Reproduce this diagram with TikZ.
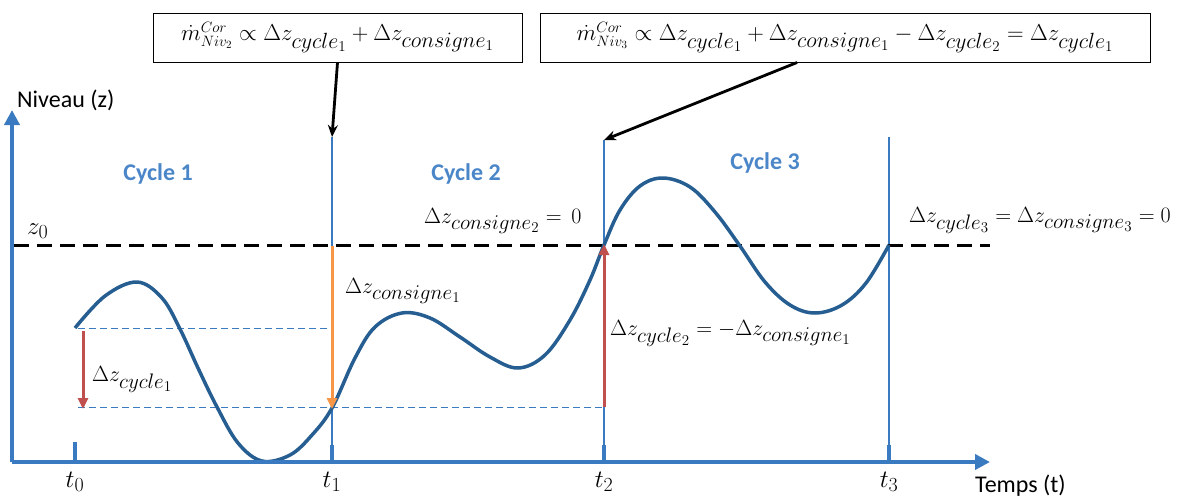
\RequirePackage{fix-cm}
\documentclass[tikz,border=0pt]{standalone}
\usepackage{fontspec}
\setsansfont{Carlito}
\DeclareMathSizes{15}{15}{11}{8}
\DeclareMathSizes{22}{22}{21}{15}
\DeclareMathSizes{23}{23}{22}{15}
\DeclareMathSizes{25}{25}{20}{15}
\newcommand{\mscr}[1]{\hbox{\fontsize{15}{17}\selectfont$#1$}}
\usetikzlibrary{arrows.meta}
\definecolor{axisblue}{RGB}{58,122,192}
\definecolor{curveblue}{RGB}{38,94,145}
\definecolor{cycblue}{RGB}{74,134,200}
\definecolor{redarr}{RGB}{192,80,77}
\definecolor{orangearr}{RGB}{247,150,70}
\begin{document}
\begin{tikzpicture}[x=1pt,y=-1pt,
  axis/.style={draw=axisblue,line width=4.5pt,-{Triangle[length=15pt,width=15pt]}},
  tick/.style={draw=axisblue,line width=3.5pt},
  vline/.style={draw=axisblue,line width=1.4pt},
  guide/.style={draw=axisblue,line width=1pt,dash pattern=on 7pt off 4pt},
  zline/.style={draw=black,line width=3pt,dash pattern=on 15pt off 8pt},
  curve/.style={draw=curveblue,line width=3.5pt},
  redarrow/.style={draw=redarr,line width=3pt,-{Triangle[length=11pt,width=10pt]}},
  orangearrow/.style={draw=orangearr,line width=3pt,-{Triangle[length=11pt,width=10pt]}},
  callout/.style={draw=black,line width=2.8pt,-{Stealth[length=12pt,width=10pt]}},
  box/.style={draw=black,line width=1pt,fill=white,inner sep=0pt,font=\fontsize{23}{27}\selectfont},
  mlab/.style={font=\fontsize{22}{26}\selectfont,inner sep=0pt},
  tlab/.style={font=\fontsize{25}{29}\selectfont,inner sep=0pt},
  slab/.style={font=\sffamily\fontsize{24}{28}\selectfont,inner sep=0pt},
  cyc/.style={font=\sffamily\bfseries\fontsize{24}{28}\selectfont,text=cycblue,inner sep=0pt}]
\useasboundingbox (0,0) rectangle (1191,499);
% coordinates
\coordinate (O) at (12,462);
\coordinate (ytop) at (12,110);
\coordinate (xend) at (990,462);
\coordinate (t0b) at (75,462); \coordinate (t0t) at (75,442);
\coordinate (t1b) at (332,462); \coordinate (t1t) at (332,445); \coordinate (t1v) at (332,137);
\coordinate (t2b) at (604,462); \coordinate (t2t) at (604,445); \coordinate (t2v) at (604,140);
\coordinate (t3b) at (889,462); \coordinate (t3t) at (889,445); \coordinate (t3v) at (889,137);
\coordinate (zl) at (14,245); \coordinate (zr) at (990,245);
\coordinate (g1l) at (78,328); \coordinate (g1r) at (332,328);
\coordinate (g2l) at (78,407); \coordinate (g2r) at (604,407);
\coordinate (r1s) at (83,331); \coordinate (r1e) at (83,409);
\coordinate (o1s) at (332,246); \coordinate (o1e) at (332,409);
\coordinate (r2s) at (604,407); \coordinate (r2e) at (604,244);
% vertical cycle lines
\draw[vline] (t1b) -- (t1v);
\draw[vline] (t2b) -- (t2v);
\draw[vline] (t3b) -- (t3v);
% guides
\draw[guide] (g1l) -- (g1r);
\draw[guide] (g2l) -- (g2r);
% z0 line
\draw[zline] (zl) -- (zr);
% curve
\draw[curve] plot[smooth,tension=0.6] coordinates {
 (75,328) (105,296) (137,282) (162,298) (180,329) (198,368) (217,407) (238,443) (262,461) (290,455) (312,435) (332,408)
 (355,358) (375,327) (402,313) (430,318) (460,337) (490,357) (518,368) (545,355) (570,320) (590,280) (604,245)
 (620,210) (640,186) (663,178) (690,187) (715,212) (740,246) (765,282) (790,305) (815,313) (842,305) (866,283) (889,245)};
% arrows
\draw[redarrow] (r1s) -- (r1e);
\draw[orangearrow] (o1s) -- (o1e);
\draw[redarrow] (r2s) -- (r2e);
% axes
\draw[axis] (O) -- (ytop);
\draw[axis] (O) -- (xend);
\draw[tick] (t0b) -- (t0t);
\draw[tick] (t1b) -- (t1t);
\draw[tick] (t2b) -- (t2t);
\draw[tick] (t3b) -- (t3t);
% labels
\node[slab,anchor=base west] (ny) at (17,107) {Niveau (z)};
\node[slab,anchor=base west] (nx) at (975,492) {Temps (t)};
\node[cyc] (c1) at (158,174) {Cycle 1};
\node[cyc] (c2) at (466,174) {Cycle 2};
\node[cyc] (c3) at (765,163) {Cycle 3};
\node[tlab,anchor=base west] (z0) at (27,234) {$z_0$};
\node[tlab,anchor=base] (lt0) at (75,487) {$t_0$};
\node[tlab,anchor=base] (lt1) at (332,487) {$t_1$};
\node[tlab,anchor=base] (lt2) at (604,487) {$t_2$};
\node[tlab,anchor=base] (lt3) at (889,487) {$t_3$};
\node[mlab,anchor=base west] (dc1) at (92,381) {$\Delta z_{cycle_1}$};
\node[mlab,anchor=base west] (dcs1) at (345,293) {$\Delta z_{consigne_1}$};
\node[mlab,anchor=base west] (dcs2) at (424,223) {$\Delta z_{consigne_2}=\,0$};
\node[mlab,anchor=base west] (dc2) at (610,335) {$\Delta z_{cycle_2}=-\Delta z_{consigne_1}$};
\node[mlab,anchor=base west] (dc3) at (909,222) {$\Delta z_{cycle_3}=\Delta z_{consigne_3}=0$};
% boxes
\node[box,minimum width=369pt,minimum height=49pt] (b1) at (337.5,37.5)
  {$\dot{m}^{\mscr{Cor}}_{\mscr{Niv_2}}\propto\Delta z_{cycle_1}+\Delta z_{consigne_1}$};
\node[box,minimum width=610pt,minimum height=49pt] (b2) at (845,37.5)
  {$\dot{m}^{\mscr{Cor}}_{\mscr{Niv_3}}\propto\Delta z_{cycle_1}+\Delta z_{consigne_1}-\Delta z_{cycle_2}=\Delta z_{cycle_1}$};
\draw[callout] (b1.south) -- (t1v);
\draw[callout] ([xshift=-48pt]b2.south) -- (t2v);
\end{tikzpicture}
\end{document}
